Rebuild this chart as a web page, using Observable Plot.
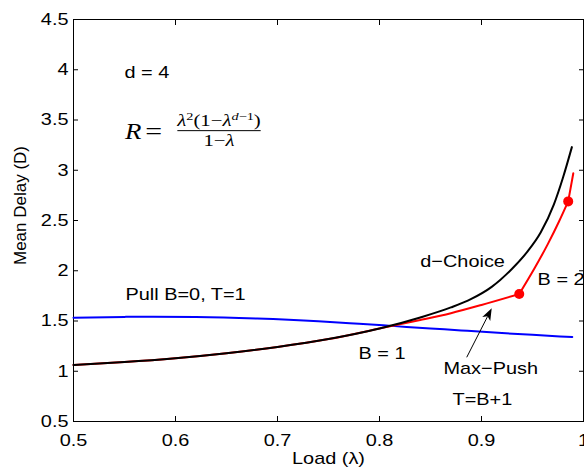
<!DOCTYPE html>
<html>
<head>
<meta charset="utf-8">
<script src="https://cdn.jsdelivr.net/npm/d3@7"></script>
<script src="https://cdn.jsdelivr.net/npm/@observablehq/plot@0.6"></script>
<style>
  html, body { margin: 0; padding: 0; background: #fff; }
  #chart svg { display: block; }
</style>
</head>
<body>
<div id="chart"></div>
<script>
const FONT = '"Liberation Sans", Arial, Helvetica, sans-serif';
const SERIF = '"Liberation Serif", "Times New Roman", serif';
const WIDEN = 1.17;        // horizontal labels use a wide Helvetica look
const WIDEN_MATH = 1.3;    // the fraction of the formula is set wider still

// Axis ticks
const xTicks = [0.5, 0.6, 0.7, 0.8, 0.9, 1];
const yTicks = [0.5, 1, 1.5, 2, 2.5, 3, 3.5, 4, 4.5];

// d-Choice (black)
const choiceLoad  = [0.50, 0.55, 0.60, 0.65, 0.70, 0.75, 0.80, 0.84, 0.87, 0.89, 0.91, 0.93, 0.945, 0.958, 0.971, 0.980, 0.9886];
const choiceDelay = [1.063, 1.092, 1.13, 1.18, 1.242, 1.32, 1.425, 1.535, 1.635, 1.72, 1.84, 2.02, 2.19, 2.38, 2.66, 2.93, 3.23];

// Max-Push, T=B+1 (red): B = 1 branch, B = 2 branch, final rise
const pushLoadB1  = [0.50, 0.55, 0.60, 0.65, 0.70, 0.75, 0.80, 0.814, 0.84, 0.87, 0.90, 0.937];
const pushDelayB1 = [1.063, 1.092, 1.13, 1.18, 1.242, 1.32, 1.425, 1.455, 1.51, 1.578, 1.66, 1.769];
const pushLoadB2  = [0.937, 0.952, 0.965, 0.976, 0.985];
const pushDelayB2 = [1.769, 2.025, 2.265, 2.49, 2.69];
const pushLoadTop  = [0.985, 0.990];
const pushDelayTop = [2.69, 2.97];

// Points where the buffer size steps up
const switchLoad  = [0.937, 0.985];
const switchDelay = [1.769, 2.69];

// Pull B=0, T=1 (blue)
const pullLoad  = [0.50, 0.55, 0.578, 0.62, 0.68, 0.74, 0.78, 0.815, 0.85, 0.88, 0.92, 0.95, 0.977, 0.989];
const pullDelay = [1.533, 1.541, 1.543, 1.540, 1.524, 1.497, 1.472, 1.449, 1.426, 1.406, 1.38, 1.362, 1.347, 1.341];

// In-plot labels
const notes = [
  {text: "d = 4",         x: 0.550,  y: 3.977},
  {text: "Pull B=0, T=1", x: 0.551,  y: 1.764},
  {text: "d\u2212Choice", x: 0.840,  y: 2.092},
  {text: "B = 2",         x: 0.955,  y: 1.908},
  {text: "B = 1",         x: 0.7794, y: 1.172},
  {text: "Max\u2212Push", x: 0.8627, y: 1.022},
  {text: "T=B+1",         x: 0.8716, y: 0.714}
];
const arrowFrom = [0.886, 1.134];
const arrowTo = [0.9105, 1.621];
const formulaPos = {rX: 0.559, eqX: 0.579, barX1: 0.6023, barX2: 0.684, barY: 3.389};

const rows = (xs, ys, extra = {}) => xs.map((load, i) => ({load, delay: ys[i], ...extra}));
const choice = rows(choiceLoad, choiceDelay);
const push = [
  ...rows(pushLoadB1, pushDelayB1, {piece: "B1"}),
  ...rows(pushLoadB2, pushDelayB2, {piece: "B2"}),
  ...rows(pushLoadTop, pushDelayTop, {piece: "top"})
];
const switches = rows(switchLoad, switchDelay);
const pull = rows(pullLoad, pullDelay);

const chart = Plot.plot({
  width: 584,
  height: 468,
  marginLeft: 73,
  marginRight: 1,
  marginTop: 19,
  marginBottom: 47,
  x: {domain: [0.5, 1]},
  y: {domain: [0.5, 4.5]},
  style: {fontFamily: FONT, fontSize: "17px", color: "black", background: "white"},
  marks: [
    Plot.frame({stroke: "black", strokeWidth: 1}),
    Plot.axisX(xTicks, {anchor: "bottom", tickSize: -5, tickPadding: 17, tickFormat: d => String(d), label: null}),
    Plot.axisX(xTicks, {anchor: "top", tickSize: -5, tickFormat: () => "", label: null}),
    Plot.axisY(yTicks, {anchor: "left", tickSize: -5, tickPadding: 10, tickFormat: d => String(d), label: null}),
    Plot.axisY(yTicks, {anchor: "right", tickSize: -5, tickFormat: () => "", label: null}),
    Plot.line(pull, {x: "load", y: "delay", stroke: "#0000ff", strokeWidth: 2, curve: "monotone-x"}),
    Plot.line(push, {x: "load", y: "delay", z: "piece", stroke: "#ff0000", strokeWidth: 2, curve: "monotone-x"}),
    Plot.line(choice, {x: "load", y: "delay", stroke: "black", strokeWidth: 2, curve: "monotone-x"}),
    Plot.dot(switches, {x: "load", y: "delay", r: 5, fill: "#ff0000", stroke: "none"}),
    Plot.text(notes, {x: "x", y: "y", text: "text", textAnchor: "start", lineAnchor: "middle", fontSize: 17}),
    Plot.text(["Load (\u03bb)"], {frameAnchor: "bottom", textAnchor: "middle", lineAnchor: "middle", dy: 37, fontSize: 17}),
    Plot.text(["Mean Delay (D)"], {frameAnchor: "left", textAnchor: "middle", lineAnchor: "middle", dx: -53, dy: -15, rotate: -90, fontSize: 17})
  ]
});

// Widen a text element horizontally about its own anchor point
const isNum = v => v != null && /^-?[\d.]+$/.test(v);
function widen(el, k) {
  const t = el.getAttribute("transform") || "";
  const x = isNum(el.getAttribute("x")) ? +el.getAttribute("x") : 0;
  const y = isNum(el.getAttribute("y")) ? +el.getAttribute("y") : 0;
  if (isNum(el.getAttribute("x"))) el.removeAttribute("x");
  if (isNum(el.getAttribute("y"))) el.removeAttribute("y");
  el.setAttribute("transform", `${t} translate(${x},${y}) scale(${k},1)`.trim());
}
chart.querySelectorAll("text").forEach(el => {
  if ((el.getAttribute("transform") || "").includes("rotate")) return; // axis title stays as is
  widen(el, WIDEN);
});

const sx = chart.scale("x"), sy = chart.scale("y");
const svg = d3.select(chart);

// Formula R = λ²(1−λ^(d−1)) / (1−λ)
const fg = svg.append("g").attr("font-family", SERIF).attr("fill", "black");
const barY = sy.apply(formulaPos.barY);
const barX1 = sx.apply(formulaPos.barX1), barX2 = sx.apply(formulaPos.barX2);
const midX = (barX1 + barX2) / 2;
const rText = fg.append("text").attr("x", sx.apply(formulaPos.rX)).attr("y", barY + 8.5)
  .attr("font-size", 23).attr("font-style", "italic").text("R");
const eqText = fg.append("text").attr("x", sx.apply(formulaPos.eqX)).attr("y", barY + 8.5)
  .attr("font-size", 23).text("=");
fg.append("line").attr("x1", barX1).attr("x2", barX2).attr("y1", barY).attr("y2", barY)
  .attr("stroke", "black").attr("stroke-width", 1);
const num = fg.append("text").attr("x", midX).attr("y", barY - 4.5)
  .attr("text-anchor", "middle").attr("font-size", 16);
num.append("tspan").attr("font-style", "italic").text("\u03bb");
num.append("tspan").attr("font-size", 11).attr("dy", -6).text("2");
num.append("tspan").attr("dy", 6).text("(1\u2212");
num.append("tspan").attr("font-style", "italic").text("\u03bb");
num.append("tspan").attr("font-size", 11).attr("dy", -6).attr("font-style", "italic").text("d");
num.append("tspan").attr("font-size", 11).text("\u22121");
num.append("tspan").attr("dy", 6).text(")");
const den = fg.append("text").attr("x", midX).attr("y", barY + 15)
  .attr("text-anchor", "middle").attr("font-size", 16);
den.append("tspan").text("1\u2212");
den.append("tspan").attr("font-style", "italic").text("\u03bb");
widen(rText.node(), WIDEN);
widen(eqText.node(), WIDEN_MATH);
widen(num.node(), WIDEN_MATH);
widen(den.node(), WIDEN_MATH);

// Pointer from the Max−Push label to its curve
const ax0 = sx.apply(arrowFrom[0]), ay0 = sy.apply(arrowFrom[1]);
const ax1 = sx.apply(arrowTo[0]), ay1 = sy.apply(arrowTo[1]);
const ang = Math.atan2(ay1 - ay0, ax1 - ax0);
const hl = 12, hw = 4.5;
const cos = Math.cos(ang), sin = Math.sin(ang);
const bx = ax1 - hl * cos, by = ay1 - hl * sin;
const nx = ax1 - 0.75 * hl * cos, ny = ay1 - 0.75 * hl * sin;
svg.append("line").attr("x1", ax0).attr("y1", ay0).attr("x2", nx).attr("y2", ny)
  .attr("stroke", "black").attr("stroke-width", 1);
svg.append("polygon")
  .attr("points", [[ax1, ay1], [bx - hw * sin, by + hw * cos], [nx, ny], [bx + hw * sin, by - hw * cos]].map(p => p.join(",")).join(" "))
  .attr("fill", "black");

document.getElementById("chart").appendChild(chart);
</script>
</body>
</html>
